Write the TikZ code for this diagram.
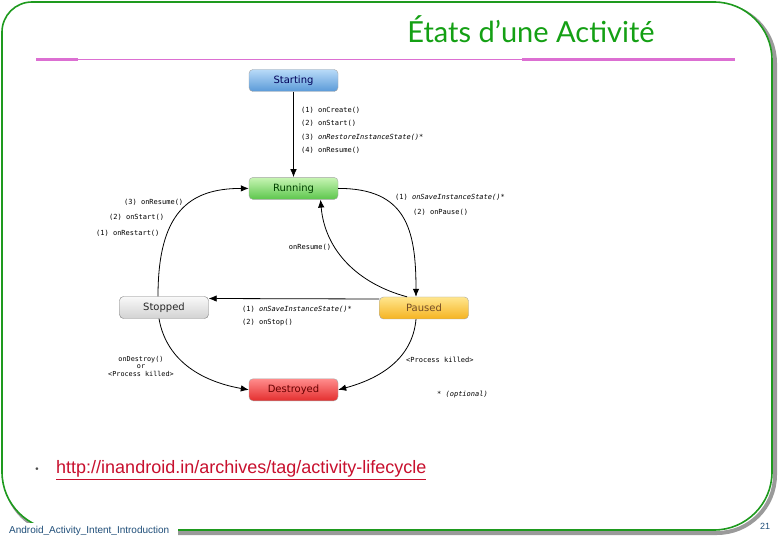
\documentclass[tikz,border=0pt]{standalone}
\usepackage{fontspec}
\setmainfont{DejaVu Sans}
\setmonofont{DejaVu Sans Mono}
\newfontfamily\titlefont{Lato}
\newfontfamily\slidefont{Liberation Sans}
\usetikzlibrary{arrows.meta,positioning}
\definecolor{frameGreen}{HTML}{1E9A1E}
\definecolor{titleGreen}{HTML}{14A014}
\definecolor{rulePink}{HTML}{DC6FD2}
\definecolor{linkRed}{HTML}{C8102E}
\definecolor{footBlue}{HTML}{1F4E79}
\definecolor{shadowGray}{HTML}{9A9A9A}
\definecolor{startTop}{HTML}{B8DAF8}
\definecolor{startBot}{HTML}{5A9AD8}
\definecolor{runTop}{HTML}{C8F5B4}
\definecolor{runBot}{HTML}{5CC64C}
\definecolor{pauTop}{HTML}{FFE68E}
\definecolor{pauBot}{HTML}{F5B321}
\definecolor{desTop}{HTML}{FF8C8C}
\definecolor{desBot}{HTML}{E42E2E}

\begin{document}
\begin{tikzpicture}[x=1pt,y=1pt,
  state/.style={draw=gray!70,rounded corners=4pt,minimum width=89pt,minimum height=22pt,inner sep=0pt,font=\fontsize{10}{11}\selectfont},
  call/.style={anchor=west,inner sep=0pt,font=\ttfamily\fontsize{7}{8}\selectfont},
  flow/.style={-{Latex[length=8pt,width=6.5pt]},line width=.8pt}]
  \useasboundingbox (0,0) rectangle (780,-540);
  % slide frame
  \draw[shadowGray,line width=4pt,xshift=3pt,yshift=-3pt] (2,-300) [rounded corners=30pt] -- (2,-2) -- (400,-2) [rounded corners=58pt] -- (772,-2) -- (772,-530) -- (2,-530) -- cycle;
  \filldraw[fill=white,draw=frameGreen,line width=1.6pt] (2,-300) [rounded corners=30pt] -- (2,-2) -- (400,-2) [rounded corners=58pt] -- (772,-2) -- (772,-530) -- (2,-530) -- cycle;
  \fill[white] (0,-523) rectangle (178,-540);
  \node[font=\titlefont\fontsize{29}{33}\selectfont,text=titleGreen] (title) at (531,-29) {États d’une Activité};
  \draw[rulePink,line width=3pt] (36,-60) -- (78,-60);
  \draw[rulePink,line width=1pt] (78,-60) -- (522,-60);
  \draw[rulePink,line width=3pt] (522,-60) -- (735,-60);

  % states
  \node[state,top color=startTop,bottom color=startBot,text=blue!35!black] (st) at (293.5,-80.5) {Starting};
  \node[state,below=85.5pt of st,top color=runTop,bottom color=runBot,text=green!25!black] (run) {Running};
  \node[state,top color=gray!5,bottom color=gray!35,draw=gray,text=black!85] (sto) at (164,-307.5) {Stopped};
  \node[state,top color=pauTop,bottom color=pauBot,text=brown!60!black] (pau) at (424,-308) {Paused};
  \node[state,below=179pt of run,top color=desTop,bottom color=desBot,text=red!40!black] (des) {Destroyed};

  % transitions
  \draw[flow] (st) -- (run);
  \draw[flow] (run.east) to[out=0,in=90,looseness=1.3] ([xshift=-8pt]pau.north);
  \draw[flow] ([xshift=-17pt]pau.north) to[out=165,in=-85] ([xshift=27pt]run.south);
  \draw[flow] ([yshift=9pt]pau.west) -- ([yshift=9pt]sto.east);
  \draw[flow] ([xshift=-6pt]sto.north) to[out=90,in=180,out looseness=1.5,in looseness=1.1] (run.west);
  \draw[flow] ([xshift=-5pt]sto.south) to[out=-80,in=170] (des.west);
  \draw[flow] ([xshift=-8pt]pau.south) to[out=-95,in=15] (des.east);

  % labels
  \node[call] (c1) at (301,-110.5) {(1) onCreate()};
  \node[call] (c2) at (301,-123.5) {(2) onStart()};
  \node[call] (c3) at (301,-137) {(3) \textit{onRestoreInstanceState()*}};
  \node[call] (c4) at (301,-150.5) {(4) onResume()};
  \node[call] (p1) at (395,-197) {(1) \textit{onSaveInstanceState()*}};
  \node[call] (p2) at (413,-212.5) {(2) onPause()};
  \node[call] (r3) at (124,-202) {(3) onResume()};
  \node[call] (r2) at (109,-217.5) {(2) onStart()};
  \node[call] (r1) at (96,-233) {(1) onRestart()};
  \node[call,anchor=center] (res) at (310,-247) {onResume()};
  \node[call] (s1) at (242,-309) {(1) \textit{onSaveInstanceState()*}};
  \node[call] (s2) at (242,-323) {(2) onStop()};
  \node[call,anchor=center,align=center,font=\ttfamily\fontsize{6.8}{7.5}\selectfont] (kill) at (141,-366) {onDestroy()\\or\\<Process killed>};
  \node[call] (kill2) at (406,-360) {<Process killed>};
  \node[call] (opt) at (437,-395) {* \textit{(optional)}};

  % slide text
  \node[font=\small,text=black!70] (bullet) at (37,-470) {\textbullet};
  \node[anchor=west,inner sep=0pt,font=\slidefont\fontsize{18}{21}\selectfont,text=linkRed] (link) at (56,-470) {\underline{http://inandroid.in/archives/tag/activity-lifecycle}};
  \node[anchor=west,inner sep=0pt,font=\slidefont\fontsize{10}{11}\selectfont,text=footBlue] (foot) at (9,-531) {Android\_Activity\_Intent\_Introduction};
  \node[inner sep=0pt,font=\slidefont\fontsize{9}{10}\selectfont,text=footBlue] (page) at (765,-526) {21};
\end{tikzpicture}
\end{document}
